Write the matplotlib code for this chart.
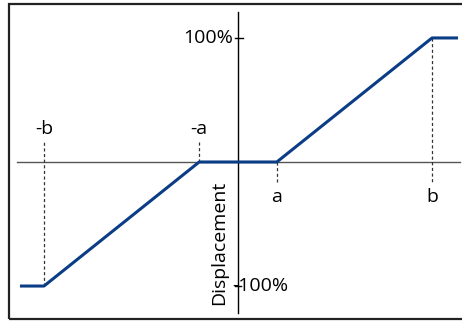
import matplotlib.pyplot as plt
from matplotlib.patches import Rectangle

plt.rcParams['font.family'] = ['Open Sans', 'DejaVu Sans']

# displacement curve (x in units of a, y as fraction of 100%)
curve_x = [-5.62, -5, -1, 1, 5, 5.67]
curve_y = [-1, -1, 0, 0, 1, 1]
marks = ['-b', '-a', 'a', 'b']
mark_x = [-5, -1, 1, 5]
mark_y = [-1, 0, 0, 1]
tick_labels = ['100%', '-100%']

fig = plt.figure(figsize=(4.62, 3.22), dpi=100)
ax = fig.add_axes([0, 0, 1, 1])
ax.set_xlim(-6.134, 5.773)
ax.set_ylim(-1.290, 1.306)
ax.axis('off')

# frame
fig.patches.append(Rectangle((9 / 462, 3 / 322), 1.0, 315 / 322, transform=fig.transFigure,
                             fill=False, edgecolor='#222222', linewidth=1.6))

# axes lines
ax.plot([-5.70, 5.72], [0, 0], color='#555555', linewidth=1.0)
ax.plot([0, 0], [-1.218, 1.21], color='black', linewidth=1.0)

# dashed guides + labels
for lab, mx, my in zip(marks, mark_x, mark_y):
    if mx < 0:
        ax.plot([mx, mx], [my, 0.177], color='#333333', linewidth=0.9, linestyle=(0, (2.5, 2)))
        ax.text(mx, 0.27, lab, ha='center', va='center', fontsize=14)
    else:
        ax.plot([mx, mx], [my, -0.17], color='#333333', linewidth=0.9, linestyle=(0, (2.5, 2)))
        ax.text(mx, -0.28, lab, ha='center', va='center', fontsize=14)

# 100% ticks
ax.plot([-0.077, 0.13], [1, 1], color='black', linewidth=1.0)
ax.plot([-0.077, 0.08], [-1, -1], color='black', linewidth=1.0)
ax.text(-0.12, 1, tick_labels[0], ha='right', va='center', fontsize=14)
ax.text(-0.14, -1, tick_labels[1], ha='left', va='center', fontsize=14)

ax.plot(curve_x, curve_y, color='#0b3d86', linewidth=2.2, solid_capstyle='butt')

ax.text(-0.49, -0.65, 'Displacement', rotation=90, ha='center', va='center', fontsize=14)

fig.savefig('out.png', dpi=100)
